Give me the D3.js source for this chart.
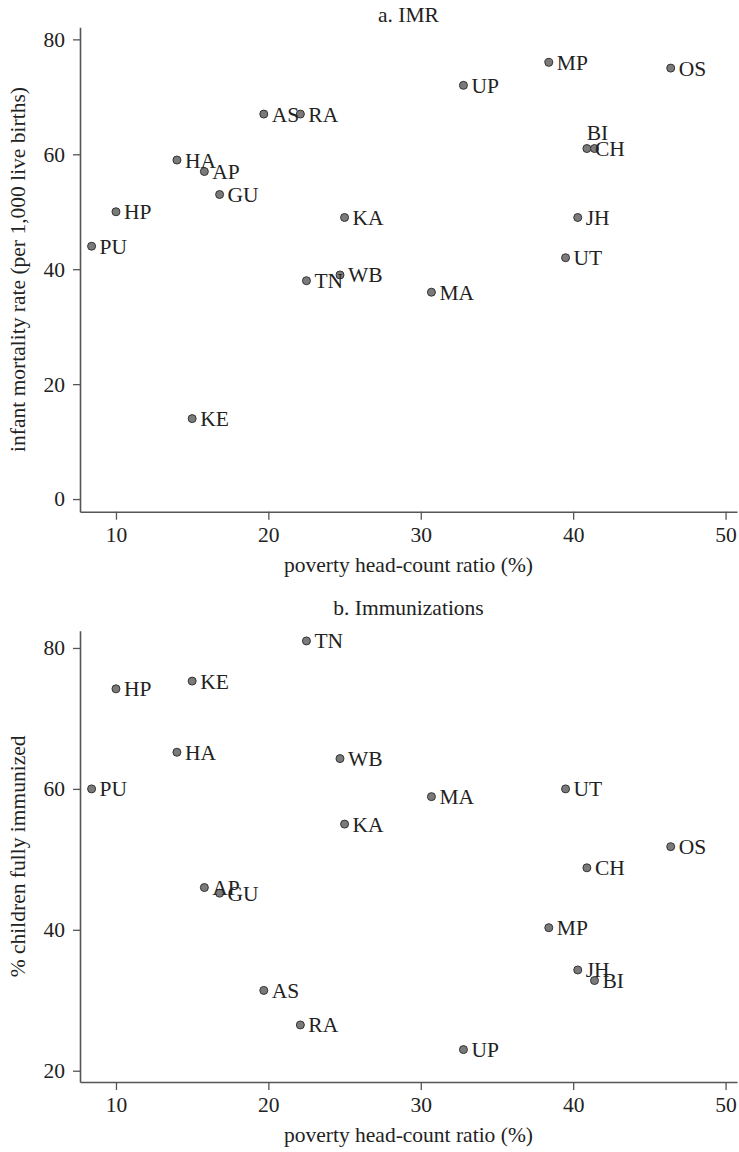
<!DOCTYPE html>
<html>
<head>
<meta charset="utf-8">
<script src="https://cdn.jsdelivr.net/npm/d3@7"></script>
<style>
  html, body { margin: 0; padding: 0; background: #fff; }
  svg { display: block; }
  svg text { font-family: "Liberation Serif", "DejaVu Serif", serif !important; fill: #222; }
</style>
</head>
<body>
<div id="chart"></div>
<script>
// ---- data ----
const states  = ["PU","HP","HA","AP","GU","KE","AS","RA","TN","WB","KA","MA","UP","MP","JH","UT","CH","BI","OS"];
const poverty = [8.4, 10.0, 14.0, 15.8, 16.8, 15.0, 19.7, 22.1, 22.5, 24.7, 25.0, 30.7, 32.8, 38.4, 40.3, 39.5, 40.9, 41.4, 46.4];
const imr     = [44, 50, 59, 57, 53, 14, 67, 67, 38, 39, 49, 36, 72, 76, 49, 42, 61, 61, 75];
const immun   = [60.0, 74.2, 65.2, 46.0, 45.2, 75.3, 31.4, 26.5, 81.0, 64.3, 55.0, 58.9, 23.0, 40.3, 34.3, 60.0, 48.8, 32.8, 51.8];
// label clock positions (Stata-style); 3 = right, 12 = above
const labelPosIMR   = ["3","3","3","3","3","3","3","3","3","3","3","3","3","3","3","3","3","12","3"];
const labelPosImmun = ["3","3","3","3","3","3","3","3","3","3","3","3","3","3","3","3","3","3","3"];
const xTicks = [10, 20, 30, 40, 50];
const yTicksIMR = [0, 20, 40, 60, 80];
const yTicksImmun = [20, 40, 60, 80];
const xTitle = "poverty head-count ratio (%)";

const W = 739, H = 1152;
const FONT = '"Liberation Serif", "DejaVu Serif", serif';
const svg = d3.select("#chart").append("svg").attr("width", W).attr("height", H)
  .attr("font-family", FONT);

const FS = 21.5;
const axisColor = "#555";

function panel(cfg) {
  const x = d3.scaleLinear().domain([7.64, 50.75]).range([80, 737]);
  const y = d3.scaleLinear().domain(cfg.yDomain).range([cfg.bottom, cfg.top]);
  const g = svg.append("g");

  // title
  g.append("text").attr("x", (80 + 737) / 2).attr("y", cfg.titleY)
    .attr("text-anchor", "middle").attr("font-family", FONT).style("font-size", FS + "px").text(cfg.title);

  // axes
  const xAxis = d3.axisBottom(x).tickValues(xTicks).tickSize(8).tickSizeOuter(0).tickPadding(6).tickFormat(d3.format("d"));
  const gx = g.append("g").attr("transform", `translate(0,${cfg.bottom})`).call(xAxis);
  const yAxis = d3.axisLeft(y).tickValues(cfg.yTicks).tickSize(7).tickSizeOuter(0).tickPadding(8).tickFormat(d3.format("d"));
  const gy = g.append("g").attr("transform", `translate(80,0)`).call(yAxis);
  [gx, gy].forEach(a => {
    a.attr("font-family", FONT);
    a.select(".domain").attr("stroke", axisColor).attr("stroke-width", 1.6);
    a.selectAll(".tick line").attr("stroke", axisColor).attr("stroke-width", 1.3);
    a.selectAll(".tick text").style("font-size", FS + "px").attr("font-family", FONT).attr("fill", "#222");
  });
  gx.selectAll(".tick text").attr("dy", "0.75em");

  // axis titles
  g.append("text").attr("x", (80 + 737) / 2).attr("y", cfg.bottom + 60)
    .attr("text-anchor", "middle").attr("font-family", FONT).style("font-size", FS + "px").text(xTitle);
  g.append("text")
    .attr("transform", `translate(25,${(cfg.top + cfg.bottom) / 2}) rotate(-90)`)
    .attr("text-anchor", "middle").attr("font-family", FONT).style("font-size", FS + "px").text(cfg.yTitle);

  // points
  const data = states.map((s, i) => ({ s, x: poverty[i], y: cfg.values[i], pos: cfg.pos[i] }));
  g.append("g").selectAll("circle").data(data).join("circle")
    .attr("cx", d => x(d.x)).attr("cy", d => y(d.y)).attr("r", 4)
    .attr("fill", "#7a7a7a").attr("stroke", "#333").attr("stroke-width", 1);

  g.append("g").selectAll("text").data(data).join("text")
    .attr("x", d => d.pos === "12" ? x(d.x) + 3 : x(d.x) + 8)
    .attr("y", d => d.pos === "12" ? y(d.y) - 16 : y(d.y))
    .attr("dy", "0.35em")
    .attr("text-anchor", d => d.pos === "12" ? "middle" : "start")
    .attr("font-family", FONT)
    .style("font-size", FS + "px")
    .text(d => d.s);
}

panel({
  title: "a. IMR", titleY: 22,
  top: 27.3, bottom: 511.7, yDomain: [-2.2, 82.1],
  yTicks: yTicksIMR, values: imr, pos: labelPosIMR,
  yTitle: "infant mortality rate (per 1,000 live births)"
});

panel({
  title: "b. Immunizations", titleY: 615,
  top: 630.7, bottom: 1082, yDomain: [18.4, 82.45],
  yTicks: yTicksImmun, values: immun, pos: labelPosImmun,
  yTitle: "% children fully immunized"
});
</script>
</body>
</html>
